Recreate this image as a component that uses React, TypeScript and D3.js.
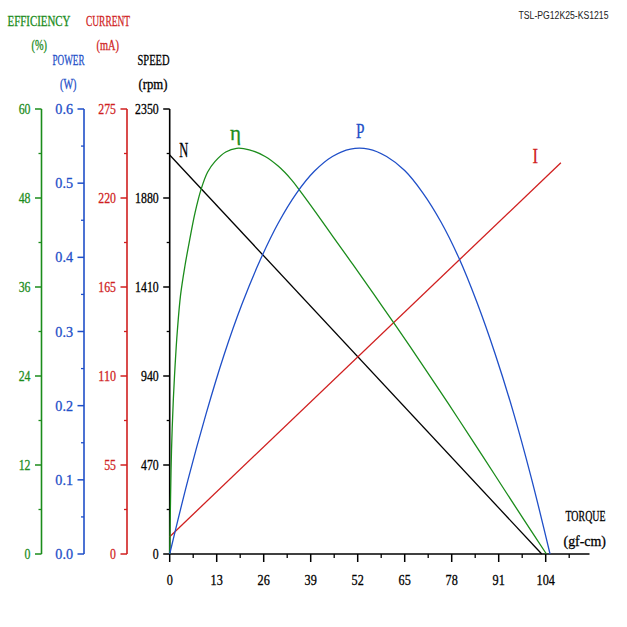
import React from 'react';
import * as d3 from 'd3';

// axis ticks
const torqueTicks = [0, 13, 26, 39, 52, 65, 78, 91, 104];
const torqueMinor = [6.5, 19.5, 32.5, 45.5, 58.5, 71.5, 84.5, 97.5, 110.5];
const effTicks = [0, 12, 24, 36, 48, 60];
const powerTicks = [0, 0.1, 0.2, 0.3, 0.4, 0.5, 0.6];
const currentTicks = [0, 55, 110, 165, 220, 275];
const speedTicks = [0, 470, 940, 1410, 1880, 2350];

// curves (torque in gf-cm)
const speedTorque = [0, 102.9];
const speedValues = [2107, 0];

const currentTorque = [0, 108.2];
const currentValues = [10.7, 241.8];

const effTorque = [0, 0.25, 0.5, 1.0, 1.5, 2.1, 3.0, 4.2, 5.5, 7, 8.7, 10.5, 12.5, 15.5, 18.5, 22, 26.4, 30, 33.7, 36, 40.5, 45.3, 50, 54.5, 58.5, 62.8, 69.2, 75, 80, 86.7, 92, 98, 104.2];
const effValues = [0, 8, 14, 20.8, 25.5, 30.0, 34.9, 38.8, 42.3, 46.0, 49.2, 51.5, 52.9, 54.2, 54.7, 54.5, 53.6, 52.3, 50.45, 49.0, 46.0, 42.7, 39.5, 36.4, 33.6, 30.6, 26.0, 21.8, 18.1, 13.1, 9.1, 4.6, 0];

const powerTorque = [0, 5, 10, 15, 20, 25, 30, 35, 40, 45, 50, 55, 60, 65, 70, 75, 80, 85, 90, 95, 100, 105.2];
const powerValues = [0, 0.099, 0.188, 0.268, 0.337, 0.396, 0.446, 0.486, 0.516, 0.536, 0.546, 0.546, 0.536, 0.517, 0.487, 0.448, 0.399, 0.339, 0.27, 0.192, 0.103, 0];

const GREEN = '#1b8c1b';
const BLUE = '#1f4fc8';
const RED = '#d01f1f';
const BLACK = '#000';
const SERIF = '"Liberation Serif", "DejaVu Serif", serif';

const Y0 = 554;
const Y1 = 109;

const x = d3.scaleLinear().domain([0, 104]).range([169.7, 545.7]);
const yEff = d3.scaleLinear().domain([0, 60]).range([Y0, Y1]);
const yPow = d3.scaleLinear().domain([0, 0.6]).range([Y0, Y1]);
const yCur = d3.scaleLinear().domain([0, 275]).range([Y0, Y1]);
const ySpd = d3.scaleLinear().domain([0, 2350]).range([Y0, Y1]);

function Txt({ x, y, text, color = BLACK, size = 15, anchor = 'start', width, family = SERIF, bold = 0.3 }: any) {
  return (
    <text
      x={x}
      y={y}
      fill={color}
      stroke={color}
      strokeWidth={bold}
      fontSize={size}
      fontFamily={family}
      textAnchor={anchor}
      textLength={width}
      lengthAdjust="spacingAndGlyphs"
    >
      {text}
    </text>
  );
}

function LeftAxis({ scale, ticks, axisX, color, fmt }: any) {
  const minor = ticks.slice(0, -1).map((t: number, i: number) => (t + ticks[i + 1]) / 2);
  return (
    <g>
      <line x1={axisX} x2={axisX} y1={Y1} y2={Y0} stroke={color} strokeWidth={1.6} />
      {ticks.map((t: number) => (
        <g key={t}>
          <line x1={axisX - 6.5} x2={axisX} y1={scale(t)} y2={scale(t)} stroke={color} strokeWidth={1.5} />
          <Txt x={axisX - 11} y={scale(t) + 5} text={fmt(t)} color={color} anchor="end" width={fmt(t).length * 5.9} />
        </g>
      ))}
      {minor.map((t: number) => (
        <line key={'m' + t} x1={axisX - 3} x2={axisX} y1={scale(t)} y2={scale(t)} stroke={color} strokeWidth={1.3} />
      ))}
    </g>
  );
}

function curve(xs: number[], ys: number[], yScale: any, smooth: boolean) {
  const pts = xs.map((t, i) => [t, ys[i]] as [number, number]);
  const gen = d3
    .line<[number, number]>()
    .x(d => x(d[0]))
    .y(d => yScale(d[1]));
  if (smooth) gen.curve(d3.curveCatmullRom.alpha(0.5));
  return gen(pts) || '';
}

export default function App() {
  return (
    <svg width={627} height={627} style={{ position: 'absolute', left: 0, top: 0, background: '#fff' }}>
      <rect width={627} height={627} fill="#fff" />

      <Txt x={518.5} y={18.5} text="TSL-PG12K25-KS1215" color="#222" size={10} width={90} bold={0} family='"Liberation Sans", Arial, sans-serif' />

      {/* axis titles */}
      <Txt x={7.5} y={26} text="EFFICIENCY" color={GREEN} size={14} width={63} />
      <Txt x={31.5} y={50} text="(%)" color={GREEN} size={15} width={15.5} />
      <Txt x={86} y={26} text="CURRENT" color={RED} size={15} width={44} />
      <Txt x={96.5} y={50} text="(mA)" color={RED} size={15} width={22.5} />
      <Txt x={52.5} y={64.5} text="POWER" color={BLUE} size={15} width={32} />
      <Txt x={60} y={88.5} text="(W)" color={BLUE} size={15} width={16.5} />
      <Txt x={137.5} y={64.5} text="SPEED" color={BLACK} size={15} width={32} />
      <Txt x={138.5} y={88.5} text="(rpm)" color={BLACK} size={15} width={29} />
      <Txt x={565.5} y={521} text="TORQUE" color={BLACK} size={15} width={40} />
      <Txt x={563.5} y={545.5} text="(gf-cm)" color={BLACK} size={15} width={42.5} />

      <LeftAxis scale={yEff} ticks={effTicks} axisX={41.5} color={GREEN} fmt={(v: number) => String(v)} />
      <LeftAxis scale={yPow} ticks={powerTicks} axisX={84} color={BLUE} fmt={(v: number) => v.toFixed(1)} />
      <LeftAxis scale={yCur} ticks={currentTicks} axisX={127} color={RED} fmt={(v: number) => String(v)} />
      <LeftAxis scale={ySpd} ticks={speedTicks} axisX={169.7} color={BLACK} fmt={(v: number) => String(v)} />

      {/* torque axis */}
      <line x1={169.7} x2={589.5} y1={Y0} y2={Y0} stroke={BLACK} strokeWidth={1.6} />
      {torqueTicks.map(t => (
        <g key={t}>
          <line x1={x(t)} x2={x(t)} y1={Y0} y2={Y0 + 8} stroke={BLACK} strokeWidth={1.5} />
          <Txt x={x(t)} y={585} text={String(t)} anchor="middle" width={String(t).length * 6.1} />
        </g>
      ))}
      {torqueMinor.map(t => (
        <line key={'m' + t} x1={x(t)} x2={x(t)} y1={Y0} y2={Y0 + 4} stroke={BLACK} strokeWidth={1.3} />
      ))}

      {/* curves */}
      <path d={curve(speedTorque, speedValues, ySpd, false)} fill="none" stroke={BLACK} strokeWidth={1.3} />
      <path d={curve(currentTorque, currentValues, yCur, false)} fill="none" stroke={RED} strokeWidth={1.3} />
      <path d={curve(effTorque, effValues, yEff, true)} fill="none" stroke={GREEN} strokeWidth={1.3} />
      <path d={curve(powerTorque, powerValues, yPow, true)} fill="none" stroke={BLUE} strokeWidth={1.3} />

      {/* curve labels */}
      <Txt x={179.3} y={156.7} text="N" color={BLACK} size={22} width={9} />
      <Txt x={230} y={139.5} text="η" color={GREEN} size={21} width={11} />
      <Txt x={356} y={137.7} text="P" color={BLUE} size={22} width={8.5} />
      <Txt x={532.5} y={163.3} text="I" color={RED} size={22} width={5.5} />
    </svg>
  );
}
